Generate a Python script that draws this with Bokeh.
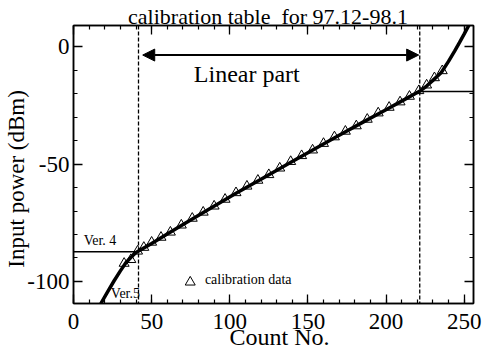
from bokeh.plotting import figure
from bokeh.models import (LinearAxis, Span, Arrow, NormalHead, Label,
                          SingleIntervalTicker, Range1d)
from bokeh.embed import file_html
from bokeh.resources import INLINE

FONT = "'Liberation Serif', 'Times New Roman', serif"
NB = "\u00a0"

# Ver. 5 conversion curve (count -> input power, dBm)
curve_x = [17.5, 22, 26, 30, 33.5, 37, 40, 50, 60, 72, 85, 104, 120, 140,
           168, 185, 200, 212, 222.3, 226, 230, 235.4, 240, 244, 247, 250, 253, 256]
curve_y = [-109.4, -104.2, -99.7, -95.5, -92.0, -89.6, -87.7, -83.8, -79.8,
           -75.0, -69.9, -62.4, -56.4, -48.9, -38.4, -32.2, -26.8, -22.4,
           -18.6, -16.7, -14.3, -10.9, -6.2, -1.7, 1.8, 5.4, 9.1, 12.8]

# calibration data (triangles)
cal_x = [32.4, 36.7, 41, 45, 50, 56, 62, 69, 76, 83, 90, 97, 104, 111, 118,
         125, 132, 139, 146, 153, 160, 167, 174, 181, 188, 195, 202, 209,
         215, 221, 226, 231, 236]
cal_y = [-92.3, -90.7, -87.1, -85.5, -83.3, -81.2, -79.0, -76.0, -73.1,
         -70.5, -67.9, -65.0, -62.2, -59.4, -56.9, -54.5, -51.7, -48.9,
         -46.4, -44.0, -41.2, -38.4, -36.0, -33.7, -30.9, -28.2, -25.8,
         -23.5, -21.1, -18.7, -16.3, -13.2, -10.2]

# Ver. 4 clamps
ver4_low_x = [0, 41.6]
ver4_low_y = [-87.3, -87.3]
ver4_high_x = [221.6, 256]
ver4_high_y = [-19.0, -19.0]

linear_bounds = [41.6, 221.6]
arrow_x = [44.3, 220.9]
arrow_y = -3.5

y_tick_labels = {-100: "-100", -50: "-50", 0: "0"}

title_text = "calibration table" + NB + " for 97.12-98.1" + NB * 2
x_title = NB * 2 + "Count No."
y_title = "Input power (dBm)" + NB * 5

p = figure(width=482, height=352, x_range=Range1d(0, 256),
           y_range=Range1d(-109.4, 9.1), output_backend="svg",
           toolbar_location=None, title=None, min_border_left=73,
           min_border_right=9, min_border_top=23, min_border_bottom=49,
           background_fill_color="white", border_fill_color="white")

p.grid.visible = False
p.outline_line_color = "black"
p.outline_line_width = 1.5

def style_axis(ax, show_labels=True):
    ax.ticker = SingleIntervalTicker(interval=50, num_minor_ticks=5)
    ax.axis_line_color = "black"
    ax.axis_line_width = 1.5
    ax.major_tick_in = 9
    ax.major_tick_out = 0
    ax.minor_tick_in = 4
    ax.minor_tick_out = 0
    ax.major_tick_line_width = 1.3
    ax.minor_tick_line_width = 1.2
    ax.major_label_text_font = FONT
    ax.major_label_text_color = "black"
    ax.axis_label_text_font = FONT
    ax.axis_label_text_font_style = "normal"
    ax.axis_label_text_color = "black"
    ax.axis_label_text_font_size = "24px"
    ax.axis_label_text_line_height = 0.8
    ax.major_label_text_line_height = 0.8
    if show_labels:
        ax.major_label_text_font_size = "23px"
        ax.major_label_standoff = 4
    else:
        ax.major_label_text_font_size = "1px"
        ax.major_label_text_alpha = 0
        ax.major_label_standoff = 0

style_axis(p.xaxis[0])
style_axis(p.yaxis[0])
p.yaxis[0].major_label_overrides = y_tick_labels
p.xaxis[0].axis_label = x_title
p.xaxis[0].axis_label_text_line_height = 0.5
p.xaxis[0].major_label_standoff = 10
p.xaxis[0].axis_label_standoff = -8
p.yaxis[0].axis_label = y_title
p.yaxis[0].axis_label_text_font_size = "23px"
p.yaxis[0].axis_label_standoff = -5

top = LinearAxis()
style_axis(top, False)
top.axis_label = title_text
top.axis_label_text_font_size = "22px"
top.axis_label_text_line_height = 0.5
top.axis_label_standoff = -3
p.add_layout(top, "above")
right = LinearAxis()
style_axis(right, False)
p.add_layout(right, "right")

# curves
p.line(curve_x, curve_y, line_color="black", line_width=3.5)
p.line(ver4_low_x, ver4_low_y, line_color="black", line_width=1.5)
p.line(ver4_high_x, ver4_high_y, line_color="black", line_width=1.5)
p.scatter(cal_x, cal_y, marker="triangle", size=10, fill_color=None,
          line_color="black", line_width=1)

for xb in linear_bounds:
    p.add_layout(Span(location=xb, dimension="height", line_color="black",
                      line_width=1.3, line_dash="4 2"))

p.add_layout(Arrow(x_start=arrow_x[0], x_end=arrow_x[1], y_start=arrow_y,
                   y_end=arrow_y, line_color="black", line_width=2,
                   start=NormalHead(size=12, fill_color="black", line_color="black"),
                   end=NormalHead(size=12, fill_color="black", line_color="black")))

def label(x, y, text, size, **kw):
    p.add_layout(Label(x=x, y=y, text=text, text_font=FONT,
                       text_font_size=size, text_color="black", **kw))

label(77, -17.2, "Linear part", "24px")
label(6.5, -85.7, "Ver. 4", "14px")
label(23.9, -108.2, "Ver.5", "14px")

# legend
p.scatter([74.7], [-100.3], marker="triangle", size=10, fill_color=None,
          line_color="black", line_width=1)
label(84.1, -102.5, "calibration data", "14px")

open("out.html", "w").write(file_html(p, INLINE))
